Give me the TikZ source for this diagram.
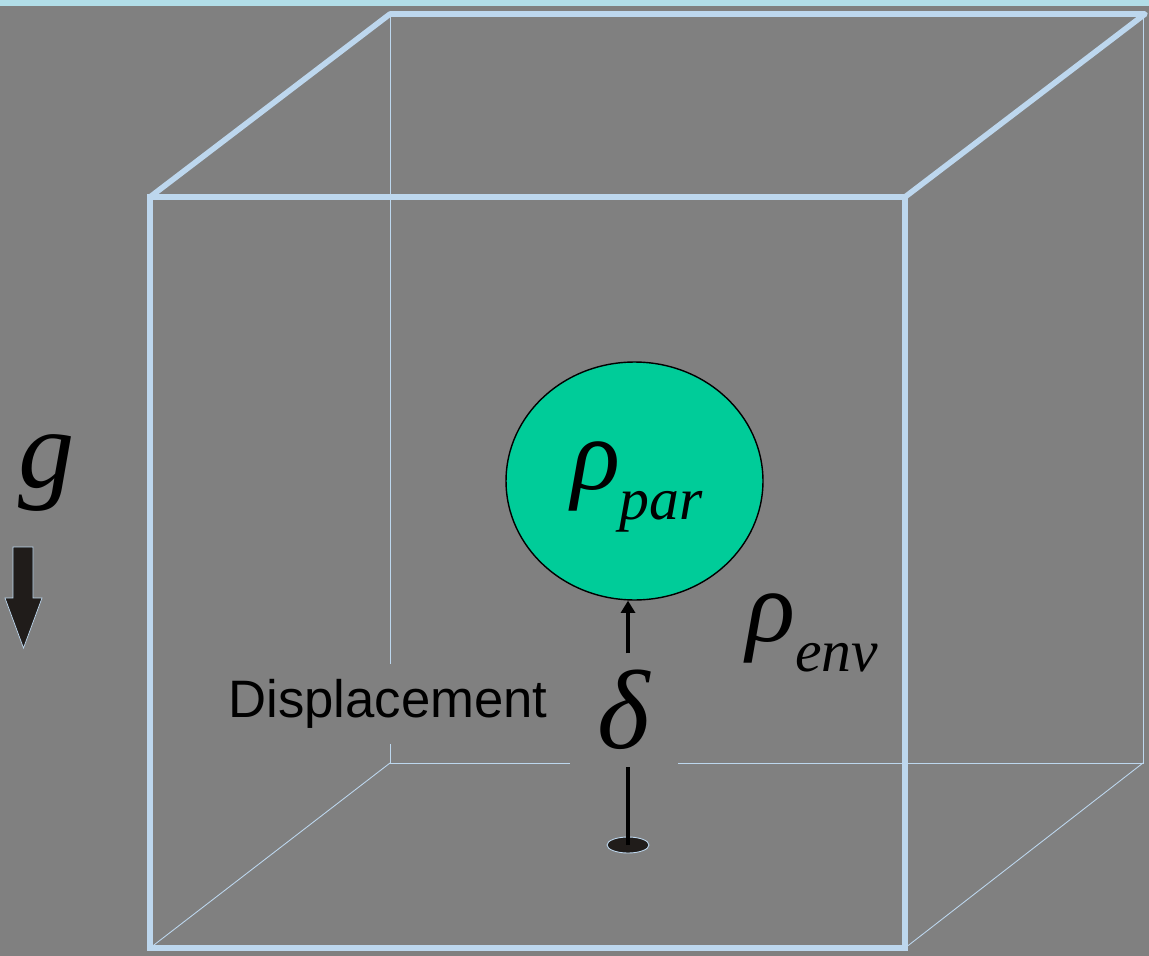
\documentclass[tikz,border=0pt]{standalone}
\usepackage{fontspec}
\setmainfont{Liberation Serif}
\newfontfamily\arialfont{Liberation Sans}
\usetikzlibrary{arrows.meta,shapes.geometric}
\definecolor{edgeblue}{RGB}{189,215,238}
\definecolor{bggray}{RGB}{128,128,128}
\definecolor{pargreen}{RGB}{0,204,153}
\definecolor{tileblue}{RGB}{178,222,232}
\definecolor{darkfill}{RGB}{32,28,26}

\begin{document}
\begin{tikzpicture}[
  x=0.02cm, y=-0.02cm,
  thickedge/.style={edgeblue, line width=3.2pt},
  thinedge/.style={edgeblue, line width=0.5pt},
  greek/.style={font=\fontsize{64}{64}\selectfont\itshape, inner sep=0pt},
  density/.style={font=\fontsize{58}{58}\selectfont\itshape, inner sep=0pt},
  stem/.style={line width=2.6pt, black},
  tip/.style={-{Triangle[length=7pt,width=8pt]}}
]
\useasboundingbox (0,0) rectangle (1149,956);
\fill[bggray] (0,0) rectangle (1149,956);
\fill[tileblue] (0,0) rectangle (1149,6);

% back edges of the box
\draw[thinedge] (390,14) -- (390,763) -- (1143,763) -- (1143,14);
\draw[thinedge] (150,948) -- (390,763);
\draw[thinedge] (905,948) -- (1143,763);

% top and front face
\draw[thickedge, line join=round] (150,197) -- (390,14) -- (1145,14) -- (905,197);
\draw[thickedge] (150,197) rectangle (905,948);

% parcel and labels
\node[ellipse, draw=black, line width=0.8pt, fill=pargreen,
      minimum width=5.14cm, minimum height=4.76cm, inner sep=0pt] (par) at (634.5,481) {};
\node[density] (rhopar) at (637,487) {ρ\raisebox{-0.3em}{\fontsize{34}{34}\selectfont par}};
\node[density] (rhoenv) at (812,633) {ρ\raisebox{-0.3em}{\fontsize{34}{34}\selectfont env}};

\node[greek, fill=bggray, minimum width=61pt, minimum height=64pt] (delta) at (624,710) {δ};
\node[font=\arialfont\fontsize{30}{30}\selectfont, fill=bggray, inner xsep=2pt,
      minimum height=46pt] (disp) at (388,704) {Displacement};

\node[ellipse, draw=edgeblue, line width=0.5pt, fill=darkfill,
      minimum width=0.84cm, minimum height=0.32cm, inner sep=0pt] (base) at (628,845) {};

\draw[stem] (base.center) -- (base.center |- delta.south);
\draw[stem, tip] (base.center |- delta.north) -- (base.center |- par.south);

% gravity
\node[greek, anchor=base] (g) at (47,487) {g};
\filldraw[draw=edgeblue, line width=0.4pt, fill=darkfill]
  (13,547) -- (33,547) -- (33,598) -- (42,598) -- (23.5,648) -- (5,598) -- (13,598) -- cycle;
\end{tikzpicture}
\end{document}
